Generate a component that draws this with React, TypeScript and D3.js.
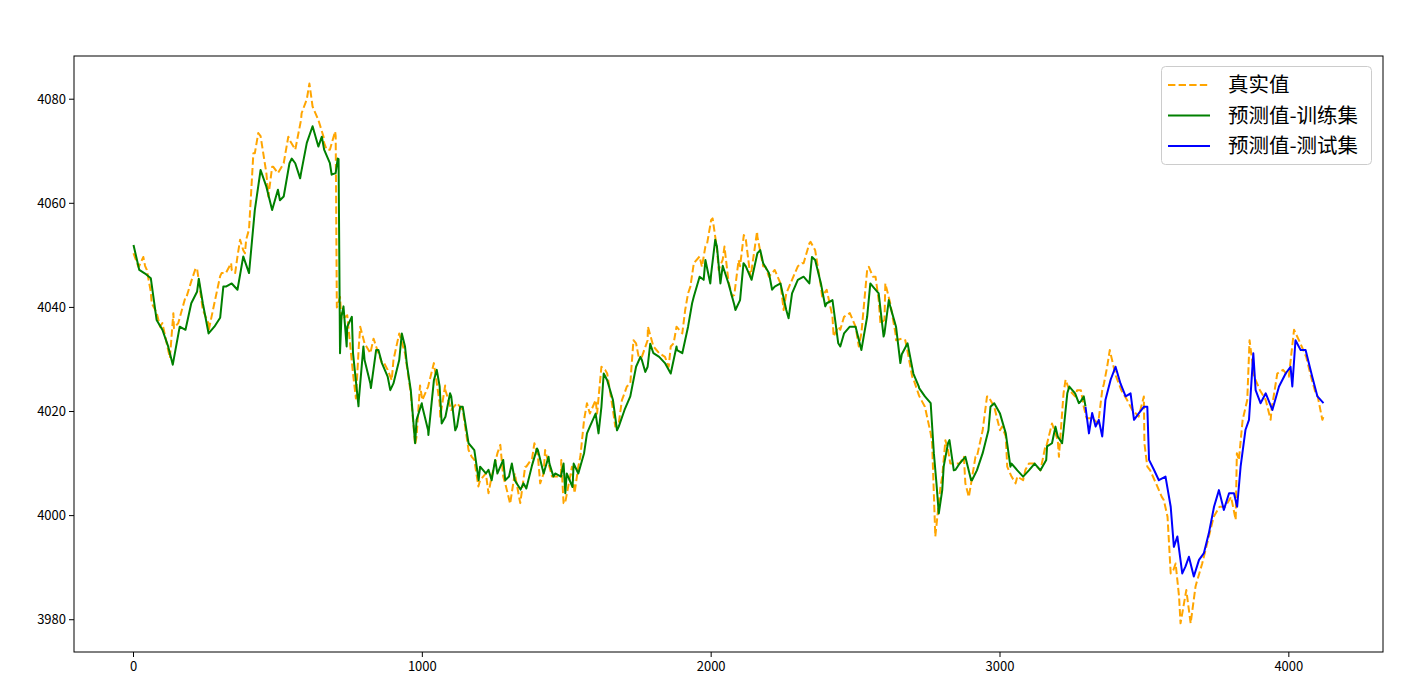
import React from "react";
import * as d3 from "d3";

// ---- data: [index, value] ----
// true values, regular readings
const trueCoarse: [number, number][] = [
  [0, 4050.4], [20, 4048], [40, 4048], [60, 4043], [80, 4039], [100, 4037], [120, 4031.8], [126, 4030.3], [140, 4036],
  [160, 4038], [180, 4042], [200, 4045], [220, 4047.5], [240, 4039.5], [260, 4035.5], [280, 4040.8], [300, 4046],
  [320, 4046.6], [340, 4047.2], [360, 4049.8], [380, 4051], [390, 4053], [400, 4055], [420, 4069.6], [440, 4072.9],
  [460, 4065.8], [480, 4067], [500, 4065.8], [520, 4067.7], [540, 4072.2], [560, 4070.3], [580, 4076], [600, 4080],
  [609, 4083], [620, 4078.6], [640, 4076], [660, 4071.6], [680, 4070.3], [700, 4072.9], [704, 4040], [720, 4037.6],
  [740, 4038.5], [760, 4027.3], [770, 4022.5], [780, 4032.5], [800, 4033.1], [820, 4031.2], [840, 4032.5],
  [860, 4029.3], [880, 4028], [900, 4029.9], [920, 4035], [940, 4031.2], [960, 4023.5], [980, 4015.2],
  [1000, 4022.2], [1020, 4024.8], [1040, 4029.3], [1060, 4021.6], [1080, 4024.1], [1100, 4020.3], [1120, 4021.6],
  [1140, 4020.3], [1160, 4012.6], [1180, 4010.7], [1200, 4006.8], [1220, 4008.1], [1240, 4007.5], [1260, 4012],
  [1280, 4007.5], [1304, 4002.3], [1320, 4008.1], [1360, 4009.4], [1380, 4011], [1400, 4011.5],
  [1420, 4008.1], [1440, 4009.4], [1460, 4007.5], [1480, 4007.5], [1494, 4002.3], [1520, 4008.1], [1540, 4009.4],
  [1560, 4018.4], [1580, 4019.6], [1600, 4022.2], [1620, 4028.6], [1640, 4027.3], [1660, 4020.3], [1680, 4017.7],
  [1700, 4023.5], [1720, 4025.4], [1740, 4033.1], [1760, 4030.5], [1780, 4033.7], [1800, 4032.5], [1820, 4031.2],
  [1840, 4030.5], [1860, 4032.5], [1880, 4036.3], [1900, 4035], [1920, 4042.7], [1940, 4048.5], [1960, 4049.8],
  [1980, 4051.7], [2000, 4056.8], [2020, 4051.3], [2040, 4049.2], [2060, 4045], [2080, 4042.4], [2100, 4047.9],
  [2120, 4053], [2140, 4047.2], [2160, 4053.6], [2180, 4047.9], [2200, 4045.9], [2220, 4047.2], [2240, 4044.6],
  [2260, 4042.7], [2280, 4045.3], [2300, 4047.9], [2320, 4048.5], [2340, 4052.3], [2360, 4051], [2380, 4044],
  [2400, 4043.4], [2420, 4038.2], [2440, 4036.3], [2460, 4038.2], [2480, 4038.9], [2500, 4036.3], [2520, 4035],
  [2540, 4047.2], [2560, 4045.9], [2580, 4041.4], [2600, 4037.6], [2620, 4040.8], [2640, 4033.7], [2660, 4034],
  [2680, 4031.5], [2700, 4026.3], [2720, 4023], [2740, 4020.9], [2760, 4015.8], [2800, 4007.5],
  [2820, 4012.6], [2840, 4010], [2860, 4010], [2880, 4006.2], [2900, 4006.2], [2920, 4011.3], [2940, 4016.4],
  [2960, 4022.9], [2980, 4020.9], [3000, 4016.4], [3020, 4015.2], [3040, 4007.5], [3060, 4007.5], [3080, 4006.8],
  [3100, 4010], [3120, 4010], [3140, 4008.7], [3160, 4013.2], [3180, 4017.7], [3200, 4014.5], [3220, 4023.5],
  [3240, 4024.1], [3260, 4022.9], [3280, 4024.1], [3300, 4018.7], [3320, 4018.7], [3340, 4017.7], [3360, 4025.4],
  [3400, 4027], [3420, 4024.1], [3440, 4022.2], [3460, 4020.3], [3480, 4019], [3500, 4013.9],
  [3520, 4008.7], [3540, 4006.2], [3560, 4003.6], [3580, 3999.8], [3600, 3989.5], [3620, 3984.4],
  [3645, 3985.7], [3680, 3987], [3700, 3990.8], [3720, 3995.3], [3740, 3999.8], [3760, 4001.7],
  [3780, 4001.7], [3800, 4003.6], [3820, 4012], [3840, 4018.4], [3880, 4026.7], [3900, 4024.1],
  [3920, 4022.2], [3940, 4020.3], [3960, 4027.3], [3980, 4028], [4000, 4026.7], [4040, 4033.1],
  [4060, 4030.5], [4080, 4026], [4100, 4022.9], [4120, 4019],
];

// true values, local highs and lows read from close-ups
const trueDetail: [number, number][] = [
  [17, 4047.8], [34, 4049.7], [46, 4047.2], [63, 4040.8], [92, 4036.3], [138, 4038.9], [155, 4037], [184, 4042.1],
  [215, 4047.5], [259, 4037], [305, 4046.6], [338, 4048.5], [352, 4046.6], [369, 4053], [386, 4050.4], [415, 4069.6],
  [432, 4073.5], [467, 4061.3], [484, 4067], [536, 4072.8], [582, 4077.3], [658, 4072.8], [669, 4070.3], [698, 4073.8],
  [715, 4042], [785, 4036.3], [831, 4034], [866, 4029.5], [894, 4026], [975, 4013.6], [992, 4025], [1062, 4019],
  [1079, 4025], [1171, 4011.3], [1194, 4005.6], [1229, 4004.3], [1270, 4013.6], [1287, 4006.2], [1339, 4002.4],
  [1356, 4009.4], [1388, 4013.9], [1408, 4006.2], [1425, 4012.6], [1449, 4007.5], [1481, 4010.7], [1489, 4002.4],
  [1518, 4009.4], [1527, 4004.3], [1547, 4011.3], [1570, 4021.6], [1605, 4019.6], [1633, 4028], [1668, 4017.1],
  [1691, 4022.2], [1708, 4024.8], [1731, 4033.7], [1749, 4030.5], [1781, 4036.3], [1853, 4028.6], [1870, 4033.1],
  [1910, 4039.5], [1928, 4044], [1968, 4047.8], [1986, 4052.3], [2005, 4057.1], [2026, 4047.2], [2046, 4051.7],
  [2072, 4042.1], [2095, 4049.1], [2113, 4053.9], [2136, 4045.9], [2159, 4054.6], [2188, 4047.8], [2251, 4039.5],
  [2315, 4048.5], [2344, 4052.6], [2384, 4042.1], [2424, 4034.4], [2447, 4035.7], [2511, 4032.5], [2546, 4047.8],
  [2569, 4045.9], [2586, 4036.9], [2603, 4044.6], [2638, 4035], [2672, 4033.7], [2696, 4026.7], [2765, 4013.9],
  [2776, 3996], [2794, 4005.6], [2811, 4014.5], [2828, 4010], [2875, 4011.3], [2892, 4003.6], [2915, 4011.3],
  [2955, 4022.9], [3007, 4017.1], [3025, 4009.4], [3054, 4006.2], [3088, 4008.8], [3157, 4013.3], [3204, 4011.3],
  [3227, 4026.1], [3267, 4024.1], [3290, 4020.9], [3354, 4024.1], [3371, 4028.6], [3380, 4031.8], [3458, 4020.3],
  [3498, 4022.9], [3510, 4009.4], [3567, 4003], [3591, 3988.9], [3608, 3990.8], [3625, 3979.3], [3660, 3979.3],
  [3677, 3986.4], [3816, 3999.2], [3827, 4010.7], [3856, 4022.2], [3864, 4033.7], [3937, 4018.4], [4018, 4035.7],
  [4093, 4023.5], [4116, 4018.4],
];

// predictions on the training part, regular readings
const trainCoarse: [number, number][] = [
  [0, 4052], [20, 4047.2], [40, 4046.5], [60, 4045.6], [80, 4037.6], [100, 4035.7], [120, 4032.5], [136, 4029],
  [160, 4036.3], [180, 4035.7], [200, 4040.8], [220, 4043], [240, 4040.8], [260, 4035], [280, 4036.3],
  [300, 4038], [320, 4044], [340, 4044.6], [360, 4043.4], [380, 4049.8], [400, 4046.6], [420, 4058.7],
  [440, 4066.4], [460, 4063.2], [480, 4058.7], [500, 4062.6], [520, 4061.3], [540, 4067.7], [560, 4067.7],
  [580, 4065.8], [600, 4071.6], [620, 4074.8], [640, 4070.9], [660, 4070.3], [680, 4067.7], [700, 4065.8],
  [710, 4068.5], [720, 4038.2], [740, 4036.3], [760, 4031.2], [780, 4022.2], [800, 4029.9],
  [820, 4025.4], [840, 4031.8], [860, 4029.3], [880, 4026.7], [900, 4025.4], [920, 4029.9], [940, 4032.5],
  [960, 4024.1], [980, 4018.4], [1000, 4020.9], [1020, 4016.4], [1040, 4026], [1060, 4024.8], [1080, 4019],
  [1100, 4022.9], [1120, 4017.1], [1140, 4020.9], [1160, 4013.9], [1180, 4012.6], [1200, 4009.4], [1220, 4008.1],
  [1240, 4006.8], [1260, 4008.1], [1280, 4010.7], [1300, 4007.5], [1320, 4006.8], [1340, 4005], [1360, 4005.2],
  [1380, 4009.7], [1400, 4012.6], [1420, 4008.1], [1440, 4010], [1460, 4008.1], [1480, 4007.5], [1500, 4008.1],
  [1520, 4005.5], [1540, 4008.1], [1560, 4012], [1580, 4017.1], [1600, 4019.6], [1620, 4020.9], [1640, 4026],
  [1660, 4022.2], [1680, 4017.1], [1700, 4020.3], [1720, 4022.9], [1740, 4028.6], [1760, 4029.9], [1780, 4028.6],
  [1800, 4031.2], [1820, 4030.5], [1840, 4029.3], [1860, 4027.3], [1880, 4032.5], [1900, 4031.2], [1920, 4036.3],
  [1940, 4042.1], [1960, 4045.9], [1980, 4049.1], [2000, 4046.5], [2020, 4051.7], [2040, 4048], [2060, 4044.6],
  [2080, 4040.5], [2100, 4041.4], [2120, 4047.9], [2140, 4045.3], [2160, 4050.4], [2180, 4048.5], [2200, 4046.6],
  [2220, 4044], [2240, 4044.6], [2260, 4039.5], [2280, 4042.7], [2300, 4045.3], [2320, 4045.9], [2340, 4044.6],
  [2360, 4049.1], [2380, 4044.6], [2400, 4040.8], [2420, 4041.4], [2440, 4033.1], [2460, 4035], [2480, 4036.3],
  [2500, 4036.3], [2520, 4031.8], [2540, 4038.2], [2560, 4044], [2580, 4042.7], [2600, 4035], [2620, 4040.2],
  [2640, 4036.3], [2660, 4031], [2680, 4033.1], [2700, 4027.3], [2720, 4024.5], [2740, 4022.9], [2760, 4021.6],
  [2780, 4006.2], [2800, 4004.9], [2820, 4013.9], [2840, 4008.7], [2860, 4010], [2880, 4011.3],
  [2900, 4006.8], [2920, 4008.7], [2940, 4012], [2960, 4016.4], [2980, 4021.6], [3000, 4019.6], [3020, 4015.8],
  [3040, 4010], [3060, 4008.7], [3080, 4007.5], [3100, 4008.7], [3120, 4010], [3140, 4008.7], [3160, 4010.7],
  [3180, 4013.9], [3200, 4015.2], [3220, 4016.4], [3240, 4024.8], [3260, 4023.5], [3280, 4022], [3296, 4021],
];

// training predictions, local highs and lows from close-ups
const trainDetail: [number, number][] = [
  [226, 4045.5], [311, 4044], [507, 4060.6], [548, 4068.6], [577, 4064.8], [652, 4072.8], [686, 4065.5],
  [707, 4068.6], [715, 4031.2], [727, 4040.2], [738, 4032.5], [756, 4038.2], [779, 4021], [796, 4032.5],
  [822, 4024.5], [848, 4031.8], [889, 4024.1], [929, 4035], [946, 4029.3], [975, 4013.9], [998, 4021.6],
  [1021, 4015.5], [1050, 4028], [1067, 4017.7], [1096, 4023.5], [1114, 4016.4], [1131, 4020.9], [1195, 4006.8],
  [1229, 4008.8], [1252, 4010.7], [1287, 4006.8], [1310, 4010], [1350, 4006.2], [1397, 4012.9], [1437, 4011.3],
  [1454, 4007.5], [1489, 4010], [1495, 4004.3], [1524, 4010], [1570, 4015.8], [1610, 4015.8], [1628, 4027.3],
  [1674, 4016.4], [1755, 4030.5], [1772, 4027.6], [1789, 4033], [1882, 4031.8], [1934, 4040.8], [1974, 4045.3],
  [1997, 4044.6], [2014, 4053], [2032, 4044.6], [2084, 4039.5], [2112, 4048.5], [2170, 4051], [2211, 4043.4],
  [2268, 4037.9], [2349, 4049.7], [2395, 4040.2], [2447, 4032.5], [2551, 4044.6], [2597, 4034.4], [2615, 4041.4],
  [2655, 4029.3], [2719, 4024.8], [2771, 4012], [2788, 4000.4], [2805, 4009.4], [2825, 4014.5], [2846, 4008.8],
  [2903, 4006.8], [2967, 4020.9], [3036, 4009.4], [3163, 4013.3], [3192, 4017.1], [3215, 4013.9], [3233, 4023.5],
  [3273, 4021.6], [3290, 4022.9],
];

// predictions on the test part
const testPred: [number, number][] = [
  [3296, 4020.9], [3308, 4015.8], [3319, 4019.7], [3331, 4017.1], [3342, 4018.4], [3354, 4015.2], [3365, 4022.2],
  [3383, 4026.1], [3400, 4028.6], [3417, 4025.4], [3435, 4022.9], [3452, 4023.5], [3464, 4018.4], [3481, 4019.7],
  [3498, 4020.9], [3510, 4020.9], [3516, 4010.7], [3533, 4008.8], [3550, 4006.8], [3573, 4007.5], [3591, 4001.7],
  [3602, 3994], [3614, 3996], [3631, 3988.9], [3642, 3990.2], [3654, 3992.1], [3671, 3988.3], [3689, 3991.5],
  [3706, 3992.8], [3723, 3996.6], [3741, 4001.7], [3758, 4004.9], [3775, 4001.1], [3793, 4004.3], [3810, 4004.3],
  [3821, 4001.7], [3833, 4009.4], [3850, 4016.5], [3862, 4018.4], [3877, 4031.2], [3885, 4024.1], [3902, 4021.6],
  [3920, 4023.5], [3943, 4020.3], [3966, 4024.8], [3989, 4027.3], [4006, 4028.6], [4012, 4024.8], [4023, 4033.7],
  [4041, 4031.8], [4058, 4031.8], [4081, 4026.7], [4099, 4022.9], [4120, 4021.6],
];

const xTicks = [0, 1000, 2000, 3000, 4000];
const yTicks = [3980, 4000, 4020, 4040, 4060, 4080];
const legendLabels = ["真实值", "预测值-训练集", "预测值-测试集"];
const xDomain: [number, number] = [-206, 4326];
const yDomain: [number, number] = [3973.8, 4088.3];

const trueSeries = d3.sort([...trueCoarse, ...trueDetail], d => d[0]);
const trainPred = d3.sort([...trainCoarse, ...trainDetail], d => d[0]);

export default function App() {
  const W = 1405, H = 693;
  const left = 74, right = 1383, top = 56, bottom = 652;
  const x = d3.scaleLinear().domain(xDomain).range([left, right]);
  const y = d3.scaleLinear().domain(yDomain).range([bottom, top]);
  const line = d3.line<[number, number]>().x(d => x(d[0])).y(d => y(d[1]));
  const font = "'Noto Sans CJK SC', 'Noto Sans', sans-serif";

  const legendItems = [
    { label: legendLabels[0], color: "orange", dash: "7.4 3.2" },
    { label: legendLabels[1], color: "green", dash: undefined },
    { label: legendLabels[2], color: "blue", dash: undefined },
  ];

  return (
    <svg width={W} height={H} style={{ position: "absolute", left: 0, top: 0, background: "#fff" }}>
      <rect x={0} y={0} width={W} height={H} fill="#fff" />
      <defs>
        <clipPath id="plotclip">
          <rect x={left} y={top} width={right - left} height={bottom - top} />
        </clipPath>
      </defs>
      <g clipPath="url(#plotclip)" fill="none">
        <path d={line(trueSeries) || ""} stroke="orange" strokeWidth={2} strokeDasharray="7.4 3.2" strokeLinejoin="round" />
        <path d={line(trainPred) || ""} stroke="green" strokeWidth={2} strokeLinejoin="round" />
        <path d={line(testPred) || ""} stroke="blue" strokeWidth={2} strokeLinejoin="round" />
      </g>
      <rect x={left} y={top} width={right - left} height={bottom - top} fill="none" stroke="#000" strokeWidth={1} />
      {xTicks.map(t => (
        <g key={"x" + t}>
          <line x1={x(t)} x2={x(t)} y1={bottom} y2={bottom + 5} stroke="#000" strokeWidth={1} />
          <text x={x(t)} y={bottom + 19} textAnchor="middle" fontFamily={font} fontSize={13} fill="#000">{t}</text>
        </g>
      ))}
      {yTicks.map(t => (
        <g key={"y" + t}>
          <line x1={left - 5} x2={left} y1={y(t)} y2={y(t)} stroke="#000" strokeWidth={1} />
          <text x={left - 8} y={y(t)} dy="0.35em" textAnchor="end" fontFamily={font} fontSize={13} fill="#000">{t}</text>
        </g>
      ))}
      <g>
        <rect x={1161.5} y={66.5} width={210} height={98} rx={4} ry={4} fill="#fff" fillOpacity={0.8} stroke="#cccccc" strokeWidth={1} />
        {legendItems.map((it, i) => {
          const cy = 85 + i * 30.5;
          return (
            <g key={it.label}>
              <line x1={1168} x2={1210} y1={cy} y2={cy} stroke={it.color} strokeWidth={2} strokeDasharray={it.dash} />
              <text x={1228} y={cy} dy="0.36em" fontFamily={font} fontSize={20.5} fill="#000">{it.label}</text>
            </g>
          );
        })}
      </g>
    </svg>
  );
}
